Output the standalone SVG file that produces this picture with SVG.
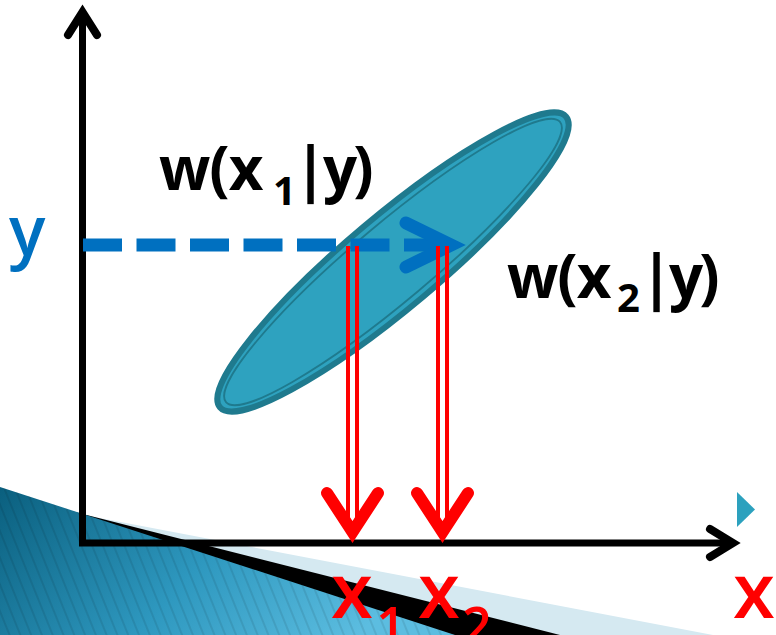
<svg xmlns="http://www.w3.org/2000/svg" width="776" height="635" viewBox="0 0 776 635">
<defs>
<linearGradient id="tealGrad" x1="0" y1="0" x2="1" y2="0.3">
<stop offset="0" stop-color="#0a5f7e"/>
<stop offset="0.55" stop-color="#2e98bf"/>
<stop offset="1" stop-color="#5cbde0"/>
</linearGradient>
<pattern id="stripes" width="10" height="40" patternUnits="userSpaceOnUse" patternTransform="rotate(-22)">
<line x1="1" y1="0" x2="1" y2="40" stroke="#000" stroke-opacity="0.13" stroke-width="1.3"/>
</pattern>
<style>
.axis{fill:none;stroke:#000;stroke-width:7;stroke-linecap:round;stroke-linejoin:miter}
.ahead{fill:none;stroke:#000;stroke-width:8;stroke-linecap:round;stroke-linejoin:miter}
.red{fill:none;stroke:#ff0000;stroke-width:4}
.redhead{fill:none;stroke:#ff0000;stroke-width:12;stroke-linecap:round;stroke-linejoin:miter;stroke-miterlimit:10}
.blk{font-family:"Open Sans","Liberation Sans",sans-serif;font-weight:bold;fill:#000}
.rlab{font-family:"Open Sans","Liberation Sans",sans-serif;font-weight:600;fill:#ff0000}
</style>
</defs>

<g id="background">
<polygon points="0,499 713,635 0,635" fill="#d5e9f1"/>
<polygon points="0,493 560,635 0,635" fill="#000"/>
<polygon points="0,487 455,635 0,635" fill="url(#tealGrad)"/>
<polygon points="0,487 455,635 0,635" fill="url(#stripes)"/>
<polygon points="737,492 755,509.5 737,527" fill="#2ca1be"/>
</g>

<g id="ellipse-node">
<g transform="translate(393,262) rotate(-40)">
<ellipse cx="0" cy="0" rx="226" ry="46" fill="#2ea2bf" stroke="#1f7a8e" stroke-width="6"/>
<ellipse cx="0" cy="0" rx="218" ry="38.5" fill="none" stroke="#1f7a8e" stroke-width="1.8"/>
</g>
</g>

<g id="axes">
<path class="axis" d="M82.5,14 L82.5,543 L731,543"/>
<polyline class="ahead" points="68,35 82.5,12 97,35"/>
<polyline class="ahead" points="710,529 733,543 710,557"/>
</g>

<g id="connectors">
<line x1="83" y1="245" x2="450" y2="245" stroke="#0070c0" stroke-width="13" stroke-dasharray="39 14.5"/>
<polyline points="406,223 451,245 406,267" fill="none" stroke="#0070c0" stroke-width="13" stroke-linecap="round" stroke-linejoin="miter"/>
<line class="red" x1="348" y1="246" x2="348" y2="530"/>
<line class="red" x1="357" y1="246" x2="357" y2="530"/>
<polyline class="redhead" points="327,493 352.5,532 378,493"/>
<line class="red" x1="438" y1="246" x2="438" y2="530"/>
<line class="red" x1="447" y1="246" x2="447" y2="530"/>
<polyline class="redhead" points="417,493 442.5,532 468,493"/>
</g>

<g id="label-y">
<text x="9" y="255" font-family="'Open Sans','Liberation Sans',sans-serif" font-weight="600" font-size="68" fill="#0070c0">y</text>
</g>
<g id="label-w1">
<text class="blk" x="159" y="190" font-size="60" letter-spacing="-1">w(x<tspan x="273" y="205" font-size="40" letter-spacing="0">1</tspan><tspan x="294" y="190" letter-spacing="-4">|y)</tspan></text>
</g>
<g id="label-w2">
<text class="blk" x="507" y="298" font-size="60" letter-spacing="-1">w(x<tspan x="617" y="312" font-size="40" letter-spacing="0">2</tspan><tspan x="640" y="298" letter-spacing="-4">|y)</tspan></text>
</g>
<g id="label-x1">
<text class="rlab" x="331" y="618" font-size="76">x<tspan x="376" y="645" font-size="52">1</tspan></text>
</g>
<g id="label-x2">
<text class="rlab" x="418" y="618" font-size="76">x<tspan x="462" y="645" font-size="52">2</tspan></text>
</g>
<g id="label-x">
<text class="rlab" x="733" y="618" font-size="76">x</text>
</g>
</svg>
